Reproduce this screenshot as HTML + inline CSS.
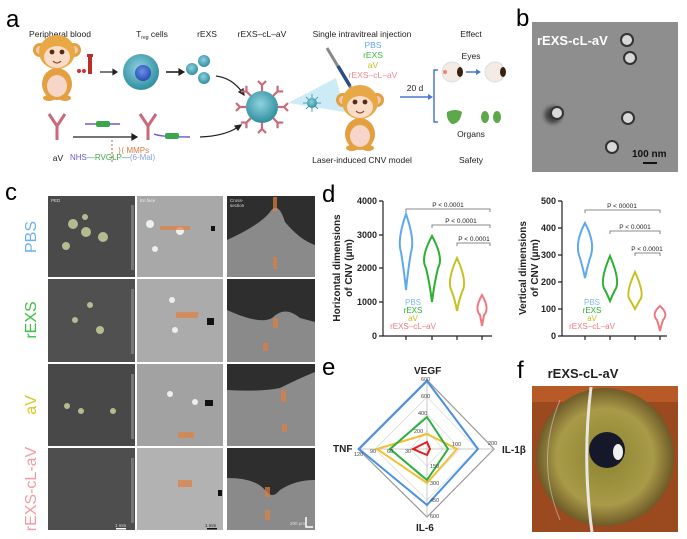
<!DOCTYPE html>
<html><head><meta charset="utf-8"><style>
html,body{margin:0;padding:0;background:#fff;}
svg{display:block;font-family:"Liberation Sans",Arial,sans-serif;}
</style></head><body>
<svg width="687" height="539" viewBox="0 0 687 539" xmlns="http://www.w3.org/2000/svg">
<defs>
<radialGradient id="cell" cx="45%" cy="40%" r="60%"><stop offset="0" stop-color="#8fd3df"/><stop offset="1" stop-color="#2f8ea0"/></radialGradient>
<radialGradient id="nuc" cx="45%" cy="40%" r="60%"><stop offset="0" stop-color="#6b8fe8"/><stop offset="1" stop-color="#2a4fb0"/></radialGradient>
<radialGradient id="iris" cx="50%" cy="50%" r="50%"><stop offset="0" stop-color="#8c8430"/><stop offset="0.7" stop-color="#a89a48"/><stop offset="1" stop-color="#6e5a28"/></radialGradient>
<radialGradient id="tem" cx="50%" cy="50%" r="50%"><stop offset="0" stop-color="#222"/><stop offset="0.5" stop-color="#555"/><stop offset="1" stop-color="#999" stop-opacity="0"/></radialGradient>
<g id="ab"><path d="M0 0 L0 -6 M0 -6 L-4 -10 M0 -6 L4 -10" stroke="#c96a7a" stroke-width="2.2" fill="none"/></g>
<g id="monkey">
 <circle cx="-17" cy="-12" r="7" fill="#e2a040"/><circle cx="17" cy="-12" r="7" fill="#e2a040"/>
 <circle cx="-17" cy="-12" r="4" fill="#f6c8b0"/><circle cx="17" cy="-12" r="4" fill="#f6c8b0"/>
 <ellipse cx="0" cy="22" rx="15" ry="16" fill="#e2a040"/><ellipse cx="0" cy="24" rx="10" ry="11" fill="#f6d6c8"/>
 <ellipse cx="0" cy="-10" rx="18" ry="17" fill="#e8a845"/>
 <ellipse cx="0" cy="-5" rx="13" ry="11" fill="#f8dcc8"/>
 <circle cx="-5" cy="-10" r="2.4" fill="#5a2a10"/><circle cx="5" cy="-10" r="2.4" fill="#5a2a10"/>
 <path d="M-4 -1 Q0 3 4 -1" stroke="#8a3a20" fill="none" stroke-width="1"/>
 <ellipse cx="-8" cy="36" rx="6" ry="3" fill="#e2a040"/><ellipse cx="8" cy="36" rx="6" ry="3" fill="#e2a040"/>
</g>
</defs>

<!-- ===== Panel a ===== -->
<text x="6" y="27" font-size="24">a</text>
<g font-size="8.5" fill="#222" text-anchor="middle">
<text x="60" y="37">Peripheral blood</text>
<text x="152" y="37">T<tspan font-size="5" dy="2">reg</tspan><tspan dy="-2"> cells</tspan></text>
<text x="207" y="37">rEXS</text>
<text x="262" y="37">rEXS–cL–aV</text>
<text x="362" y="37">Single intravitreal injection</text>
<text x="471" y="37">Effect</text>
<text x="471" y="59">Eyes</text>
<text x="471" y="137">Organs</text>
<text x="362" y="163">Laser-induced CNV model</text>
<text x="471" y="163">Safety</text>
<text x="415" y="91">20 d</text>
<text x="58" y="161">aV</text>
</g>
<use href="#monkey" x="57" y="62"/>
<rect x="88" y="56" width="4" height="18" fill="#b8302a"/><rect x="87" y="54" width="6" height="3" fill="#b8302a"/>
<circle cx="79" cy="71" r="2" fill="#d03030"/><circle cx="84" cy="71" r="2" fill="#d03030"/>
<g stroke="#222" stroke-width="1.2" fill="#222">
<line x1="100" y1="72" x2="114" y2="72"/><path d="M117 72 l-4 -2.5 v5z"/>
<line x1="166" y1="72" x2="180" y2="72" stroke-width="1.6"/><path d="M184 72 l-5 -3 v6z"/>
<path d="M216 76 Q232 78 242 92" fill="none"/><path d="M244 95 l-1 -6 l-4 3z"/>
<line x1="73" y1="137" x2="133" y2="137"/><path d="M137 137 l-5 -3 v6z"/>
<path d="M200 137 Q225 136 238 127" fill="none"/><path d="M241 125 l-6 1 l3 4z"/>
</g>
<circle cx="141" cy="72" r="18" fill="url(#cell)"/><circle cx="143" cy="73" r="8" fill="url(#nuc)"/>
<circle cx="192" cy="69" r="6" fill="url(#cell)"/><circle cx="204" cy="61" r="6" fill="url(#cell)"/><circle cx="204" cy="78" r="6" fill="url(#cell)"/>
<!-- antibodies -->
<g stroke-width="3" fill="none">
<path d="M57 140 V126 M57 126 L49 114 M57 126 L65 114" stroke="#c96a7a"/>
<path d="M148 140 V126 M148 126 L140 114 M148 126 L156 114" stroke="#c96a7a"/>
</g>
<path d="M85 124 H120" stroke="#6a5ad0" stroke-width="1.5"/><rect x="96" y="121" width="14" height="6" rx="2" fill="#3aa84a"/>
<path d="M154 134 Q160 137 190 137" stroke="#6a5ad0" stroke-width="1.5" fill="none"/><rect x="165" y="133" width="14" height="6" rx="2" fill="#3aa84a"/>
<line x1="112" y1="140" x2="112" y2="164" stroke="#d08040" stroke-width="1.2" stroke-dasharray="2,2"/>
<text x="118" y="153" font-size="8" fill="#d07a40">⟩⟨ MMPs</text>
<text x="70" y="160" font-size="8"><tspan fill="#6a5ad0">NHS</tspan><tspan fill="#3aa84a">—RVGLP—</tspan><tspan fill="#8aa0d8">(6-Mal)</tspan></text>
<!-- central particle -->
<g transform="translate(262,107)">
<use href="#ab" transform="rotate(0) translate(0,-16)"/><use href="#ab" transform="rotate(45) translate(0,-16)"/>
<use href="#ab" transform="rotate(90) translate(0,-16)"/><use href="#ab" transform="rotate(135) translate(0,-16)"/>
<use href="#ab" transform="rotate(180) translate(0,-16)"/><use href="#ab" transform="rotate(225) translate(0,-16)"/>
<use href="#ab" transform="rotate(270) translate(0,-16)"/><use href="#ab" transform="rotate(315) translate(0,-16)"/>
<circle r="16" fill="url(#cell)"/>
</g>
<path d="M288 103 L336 78 L345 112 Z" fill="#bfe6f2" opacity="0.8"/>
<g transform="translate(312,103)"><g stroke="#4aa0b0" stroke-width="1">
<line x1="-9" y1="0" x2="9" y2="0"/><line x1="0" y1="-9" x2="0" y2="9"/><line x1="-6" y1="-6" x2="6" y2="6"/><line x1="-6" y1="6" x2="6" y2="-6"/></g>
<circle r="5" fill="url(#cell)"/></g>
<line x1="327" y1="48" x2="352" y2="90" stroke="#888" stroke-width="3"/>
<line x1="338" y1="66" x2="350" y2="86" stroke="#2a4f80" stroke-width="3.5"/>
<use href="#monkey" x="360" y="112"/>
<g font-size="8.5" text-anchor="middle">
<text x="373" y="48" fill="#5fa8f0">PBS</text><text x="373" y="58" fill="#3ab840">rEXS</text>
<text x="373" y="68" fill="#c8c020">aV</text><text x="373" y="78" fill="#f08890">rEXS–cL–aV</text>
</g>
<line x1="400" y1="97" x2="429" y2="97" stroke="#4a78d0" stroke-width="1.5"/><path d="M433 97 l-5 -3 v6z" fill="#4a78d0"/>
<path d="M438 70 H434 V122 H438" stroke="#4a78d0" stroke-width="1.5" fill="none"/>
<circle cx="452" cy="72" r="10" fill="#f4ece4" stroke="#ddd"/><ellipse cx="460" cy="72" rx="3" ry="5" fill="#3a2010"/><circle cx="445" cy="72" r="2" fill="#f08080"/>
<line x1="466" y1="72" x2="477" y2="72" stroke="#4a78d0" stroke-width="1.5"/><path d="M481 72 l-5 -3 v6z" fill="#4a78d0"/>
<circle cx="495" cy="72" r="10" fill="#f4ece4" stroke="#ddd"/><ellipse cx="503" cy="72" rx="3" ry="5" fill="#3a2010"/>
<path d="M447 112 Q456 108 462 112 Q460 124 452 124 Q446 120 447 112Z" fill="#5ca84a"/>
<ellipse cx="485" cy="117" rx="4" ry="6" fill="#5ca84a"/><ellipse cx="497" cy="117" rx="4" ry="6" fill="#5ca84a"/>

<!-- ===== Panel b ===== -->
<text x="516" y="26" font-size="24">b</text>
<rect x="532" y="22" width="146" height="150" fill="#8e8e8e"/>
<circle cx="553" cy="115" r="14" fill="url(#tem)"/>
<g fill="#d8d8d8" stroke="#333" stroke-width="2">
<circle cx="627" cy="40" r="6"/><circle cx="630" cy="58" r="6"/><circle cx="557" cy="113" r="6"/><circle cx="628" cy="118" r="6"/><circle cx="612" cy="147" r="6"/></g>
<text x="537" y="45" font-size="13" font-weight="bold" fill="#fff">rEXS-cL-aV</text>
<text x="632" y="157" font-size="10" font-weight="bold" fill="#111">100 nm</text>
<rect x="643" y="162" width="14" height="2" fill="#111"/>

<!-- ===== Panel c ===== -->
<text x="5" y="200" font-size="24">c</text>
<g font-size="16" text-anchor="middle">
<text transform="translate(36,237) rotate(-90)" fill="#6ab0f0">PBS</text>
<text transform="translate(36,320) rotate(-90)" fill="#3cc040">rEXS</text>
<text transform="translate(36,405) rotate(-90)" fill="#d8c820">aV</text>
<text transform="translate(36,489) rotate(-90)" fill="#f29aa4">rEXS-cL-aV</text>
</g>
<g>
<!-- col1 -->
<rect x="48" y="196" width="87" height="81" fill="#4a4a4a"/>
<rect x="48" y="279" width="87" height="83" fill="#505050"/>
<rect x="48" y="364" width="87" height="82" fill="#484848"/>
<rect x="48" y="448" width="87" height="82" fill="#4e4e4e"/>
<!-- col2 -->
<rect x="137" y="196" width="86" height="81" fill="#a8a8a8"/>
<rect x="137" y="279" width="86" height="83" fill="#ababab"/>
<rect x="137" y="364" width="86" height="82" fill="#a2a2a2"/>
<rect x="137" y="448" width="86" height="82" fill="#b2b2b2"/>
<!-- col3 -->
<rect x="227" y="196" width="88" height="81" fill="#2e2e2e"/>
<path d="M227 240 Q260 225 270 212 Q278 200 285 222 Q300 240 315 245 V277 H227Z" fill="#8a8a8a"/>
<rect x="227" y="279" width="88" height="83" fill="#2e2e2e"/>
<path d="M227 310 Q260 325 272 318 Q285 305 300 318 L315 322 V362 H227Z" fill="#8a8a8a"/>
<rect x="227" y="364" width="88" height="82" fill="#2e2e2e"/>
<path d="M227 390 Q260 392 280 388 Q300 378 315 372 V446 H227Z" fill="#8c8c8c"/>
<rect x="227" y="448" width="88" height="82" fill="#2e2e2e"/>
<path d="M227 478 Q255 478 265 490 Q272 500 280 490 Q295 480 315 480 V530 H227Z" fill="#8a8a8a"/>
</g>
<g fill="#cfd8a0" opacity="0.8">
<circle cx="73" cy="224" r="5"/><circle cx="86" cy="232" r="5"/><circle cx="103" cy="237" r="5"/><circle cx="66" cy="246" r="4"/><circle cx="85" cy="217" r="3"/>
<circle cx="100" cy="330" r="4"/><circle cx="75" cy="320" r="3"/><circle cx="90" cy="305" r="3"/>
<circle cx="67" cy="406" r="3"/><circle cx="81" cy="411" r="3"/><circle cx="113" cy="411" r="3"/>
</g>
<g fill="#eee"><circle cx="150" cy="224" r="4"/><circle cx="180" cy="231" r="4"/><circle cx="155" cy="249" r="3"/><circle cx="175" cy="330" r="3"/><circle cx="172" cy="300" r="3"/><circle cx="170" cy="394" r="3"/><circle cx="195" cy="402" r="3"/></g>
<g fill="#111"><rect x="211" y="226" width="4" height="5"/><rect x="207" y="318" width="7" height="7"/><rect x="205" y="400" width="8" height="6"/><rect x="218" y="490" width="4" height="6"/></g>
<g fill="#e08040" opacity="0.7"><rect x="160" y="226" width="30" height="4"/><rect x="176" y="312" width="22" height="6"/><rect x="178" y="432" width="16" height="6"/><rect x="178" y="480" width="14" height="7"/>
<rect x="273" y="197" width="4" height="14"/><rect x="273" y="257" width="4" height="12"/><rect x="273" y="318" width="5" height="10"/><rect x="263" y="343" width="5" height="8"/><rect x="281" y="390" width="5" height="12"/><rect x="282" y="424" width="5" height="8"/><rect x="265" y="487" width="5" height="10"/><rect x="265" y="510" width="5" height="10"/></g>
<rect x="131" y="205" width="3" height="65" fill="#777"/>
<rect x="131" y="289" width="3" height="65" fill="#777"/>
<rect x="131" y="374" width="3" height="65" fill="#777"/>
<rect x="131" y="458" width="3" height="65" fill="#777"/>
<g font-size="4.5" fill="#ddd"><text x="51" y="202">PED</text><text x="140" y="202" fill="#eee">En face</text><text x="230" y="202">Cross-</text><text x="230" y="207">section</text>
<text x="115" y="527">1 mm</text><text x="205" y="527" fill="#222">1 mm</text><text x="290" y="525">200 μm</text></g>
<rect x="116" y="528" width="10" height="1.5" fill="#fff"/><rect x="207" y="528" width="10" height="1.5" fill="#111"/>
<path d="M306 517 V527 H313" stroke="#fff" stroke-width="1.5" fill="none"/>

<!-- ===== Panel d ===== -->
<text x="322" y="202" font-size="24">d</text>
<g font-size="10" font-weight="bold" text-anchor="middle" fill="#222">
<text transform="translate(340,268) rotate(-90)">Horizontal dimensions</text>
<text transform="translate(352,268) rotate(-90)">of CNV (μm)</text>
<text transform="translate(526,268) rotate(-90)">Vertical dimensions</text>
<text transform="translate(538,268) rotate(-90)">of CNV (μm)</text>
</g>
<g stroke="#222" stroke-width="1.2" fill="none">
<path d="M383 201 V336 H492"/><path d="M562 201 V336 H667"/>
<path d="M379 201h4M379 235h4M379 268h4M379 302h4M379 336h4"/>
<path d="M558 201h4M558 228h4M558 255h4M558 282h4M558 309h4M558 336h4"/>
<path d="M406 336v4M432 336v4M457 336v4M482 336v4M585 336v4M610 336v4M635 336v4M660 336v4"/>
</g>
<g font-size="9" font-weight="bold" text-anchor="end" fill="#222">
<text x="377" y="204">4000</text><text x="377" y="238">3000</text><text x="377" y="271">2000</text><text x="377" y="305">1000</text><text x="377" y="339">0</text>
<text x="556" y="204">500</text><text x="556" y="231">400</text><text x="556" y="258">300</text><text x="556" y="285">200</text><text x="556" y="312">100</text><text x="556" y="339">0</text>
</g>
<g fill="none" stroke-width="2">
<path d="M406 214 Q397 240 401 252 Q404 270 406 290 Q408 270 411 252 Q415 240 406 214Z" stroke="#5fa8f0"/>
<path d="M432 236 Q420 258 426 268 Q430 285 432 302 Q434 285 438 268 Q444 258 432 236Z" stroke="#2cb030"/>
<path d="M457 258 Q446 282 452 292 Q455 300 457 311 Q459 300 462 292 Q468 282 457 258Z" stroke="#c8c020"/>
<path d="M482 295 Q474 309 480 315 Q481 320 482 326 Q483 320 484 315 Q490 309 482 295Z" stroke="#f07880"/>
<path d="M585 223 Q574 244 580 258 Q583 268 585 278 Q587 268 590 258 Q596 244 585 223Z" stroke="#5fa8f0"/>
<path d="M610 256 Q599 282 605 290 Q608 296 610 301 Q612 296 615 290 Q621 282 610 256Z" stroke="#2cb030"/>
<path d="M635 272 Q625 294 630 300 Q633 305 635 309 Q637 305 640 300 Q645 294 635 272Z" stroke="#c8c020"/>
<path d="M660 306 Q651 314 657 320 Q659 326 660 331 Q661 326 663 320 Q669 314 660 306Z" stroke="#f07880"/>
</g>
<g stroke="#666" stroke-width="0.8" fill="none">
<path d="M406 212v-3H490v3M432 228v-3H490v3M457 246v-3H490v3"/>
<path d="M585 213v-3H660v3M610 234v-3H660v3M635 256v-3H660v3"/>
</g>
<g font-size="6.5" fill="#222" text-anchor="middle">
<text x="448" y="207">P &lt; 0.0001</text><text x="461" y="223">P &lt; 0.0001</text><text x="474" y="241">P &lt; 0.0001</text>
<text x="622" y="208">P &lt; 00001</text><text x="635" y="229">P &lt; 0.0001</text><text x="647" y="251">P &lt; 0.0001</text>
</g>
<g font-size="8" text-anchor="middle">
<text x="413" y="305" fill="#80b8f0">PBS</text><text x="413" y="313" fill="#2cb030">rEXS</text><text x="413" y="321" fill="#c8c020">aV</text><text x="413" y="329" fill="#f07880">rEXS–cL–aV</text>
<text x="592" y="305" fill="#80b8f0">PBS</text><text x="592" y="313" fill="#2cb030">rEXS</text><text x="592" y="321" fill="#c8c020">aV</text><text x="592" y="329" fill="#f07880">rEXS–cL–aV</text>
</g>

<!-- ===== Panel e ===== -->
<text x="322" y="375" font-size="24">e</text>
<g fill="none">
<path d="M427 380 L494 449 L427 517 L358 449Z" stroke="#999" stroke-width="1.2"/>
<path d="M427 397 L477 449 L427 500 L375 449Z" stroke="#ddd" stroke-width="0.8"/>
<path d="M427 414 L460 449 L427 483 L392 449Z" stroke="#ddd" stroke-width="0.8"/>
<path d="M427 431 L443 449 L427 466 L410 449Z" stroke="#ddd" stroke-width="0.8"/>
<path d="M427 380 V517 M358 449 H494" stroke="#bbb" stroke-width="0.8"/>
<path d="M427 381 L478 449 L427 505 L359 449Z" stroke="#4a90e0" stroke-width="2"/>
<path d="M427 434 L457 449 L427 483 L377 449Z" stroke="#f0c030" stroke-width="2"/>
<path d="M427 417 L448 449 L427 480 L390 449Z" stroke="#2cb040" stroke-width="2"/>
<path d="M427 442 L430 449 L427 455 L413 449Z" stroke="#e02020" stroke-width="2"/>
</g>
<g font-size="5.5" fill="#444">
<text x="421" y="381">600</text><text x="421" y="398">600</text><text x="418" y="415">400</text><text x="414" y="433">200</text>
<text x="452" y="446">100</text><text x="488" y="445">200</text><text x="354" y="456">120</text><text x="370" y="453">90</text><text x="387" y="453">60</text><text x="405" y="453">30</text>
<text x="430" y="468">150</text><text x="430" y="485">300</text><text x="430" y="502">450</text><text x="430" y="518">600</text>
</g>
<g font-size="10" font-weight="bold" fill="#222">
<text x="414" y="374">VEGF</text><text x="333" y="452">TNF</text><text x="502" y="453">IL-1β</text><text x="416" y="531">IL-6</text>
</g>

<!-- ===== Panel f ===== -->
<text x="517" y="378" font-size="24">f</text>
<text x="583" y="378" font-size="13" font-weight="bold" text-anchor="middle" fill="#222">rEXS-cL-aV</text>
<rect x="532" y="386" width="146" height="146" fill="#9a4a1e"/>
<rect x="532" y="386" width="146" height="16" fill="#b85a28"/>
<circle cx="605" cy="457" r="69" fill="url(#iris)"/>
<circle cx="607" cy="450" r="18" fill="#141828"/>
<ellipse cx="618" cy="452" rx="5" ry="8" fill="#f0f0f0"/>
<path d="M591 387 Q582 460 592 532" stroke="#f2f2f2" stroke-width="3" fill="none" opacity="0.9"/>
<path d="M560 400 Q535 460 560 520" stroke="#ddd" stroke-width="1" fill="none" opacity="0.5"/>
</svg>
</body></html>
